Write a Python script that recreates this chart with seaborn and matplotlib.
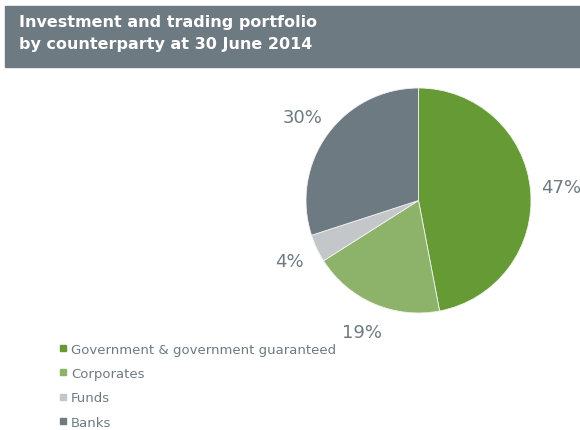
import numpy as np
import matplotlib
matplotlib.use("Agg")
import matplotlib.pyplot as plt
from matplotlib.lines import Line2D
from matplotlib.patches import Rectangle
import seaborn as sns

sns.set_theme(style="white")
plt.rcParams["font.family"] = ["DejaVu Sans"]

# data
categories = ["Government & government guaranteed", "Corporates", "Funds", "Banks"]
shares = [47, 19, 4, 30]
colors = ["#659a35", "#8db36a", "#c3c7c9", "#6d7a82"]
title_lines = ["Investment and trading portfolio", "by counterparty at 30 June 2014"]

grey = "#6d7a82"

fig = plt.figure(figsize=(5.8, 4.31), dpi=100)

# banner
fig.patches.append(Rectangle((5 / 580, 1 - 68 / 431), 1, 61 / 431,
                             transform=fig.transFigure, color=grey, zorder=0))
fig.text(19 / 580, 1 - 23 / 431, title_lines[0], color="white", fontsize=11.5,
         fontweight="bold", va="center", ha="left")
fig.text(19 / 580, 1 - 45 / 431, title_lines[1], color="white", fontsize=11.5,
         fontweight="bold", va="center", ha="left")

# pie
ax = fig.add_axes([306 / 580, 1 - 314 / 431, 225 / 580, 225 / 431])
wedges, texts, autotexts = ax.pie(
    shares, colors=colors, startangle=90, counterclock=False,
    autopct="%d%%", pctdistance=1.27,
    wedgeprops=dict(edgecolor="#f2f2f2", linewidth=0.6),
    textprops=dict(color=grey, fontsize=13),
)
for t in autotexts:
    t.set_clip_on(False)
ax.set_xlim(-1, 1)
ax.set_ylim(-1, 1)
ax.set_aspect("equal")
ax.axis("off")

# legend
handles = [Line2D([0], [0], marker="s", linestyle="none", markersize=5,
                  markerfacecolor=c, markeredgecolor=c) for c in colors]
leg = fig.legend(handles, categories, loc="upper left",
                 bbox_to_anchor=(52 / 580, 1 - 337 / 431), frameon=False,
                 fontsize=9.5, handlelength=0.6, handletextpad=0.35,
                 labelspacing=0.86, borderpad=0)
for t in leg.get_texts():
    t.set_color(grey)

fig.savefig("out.png", dpi=100)
